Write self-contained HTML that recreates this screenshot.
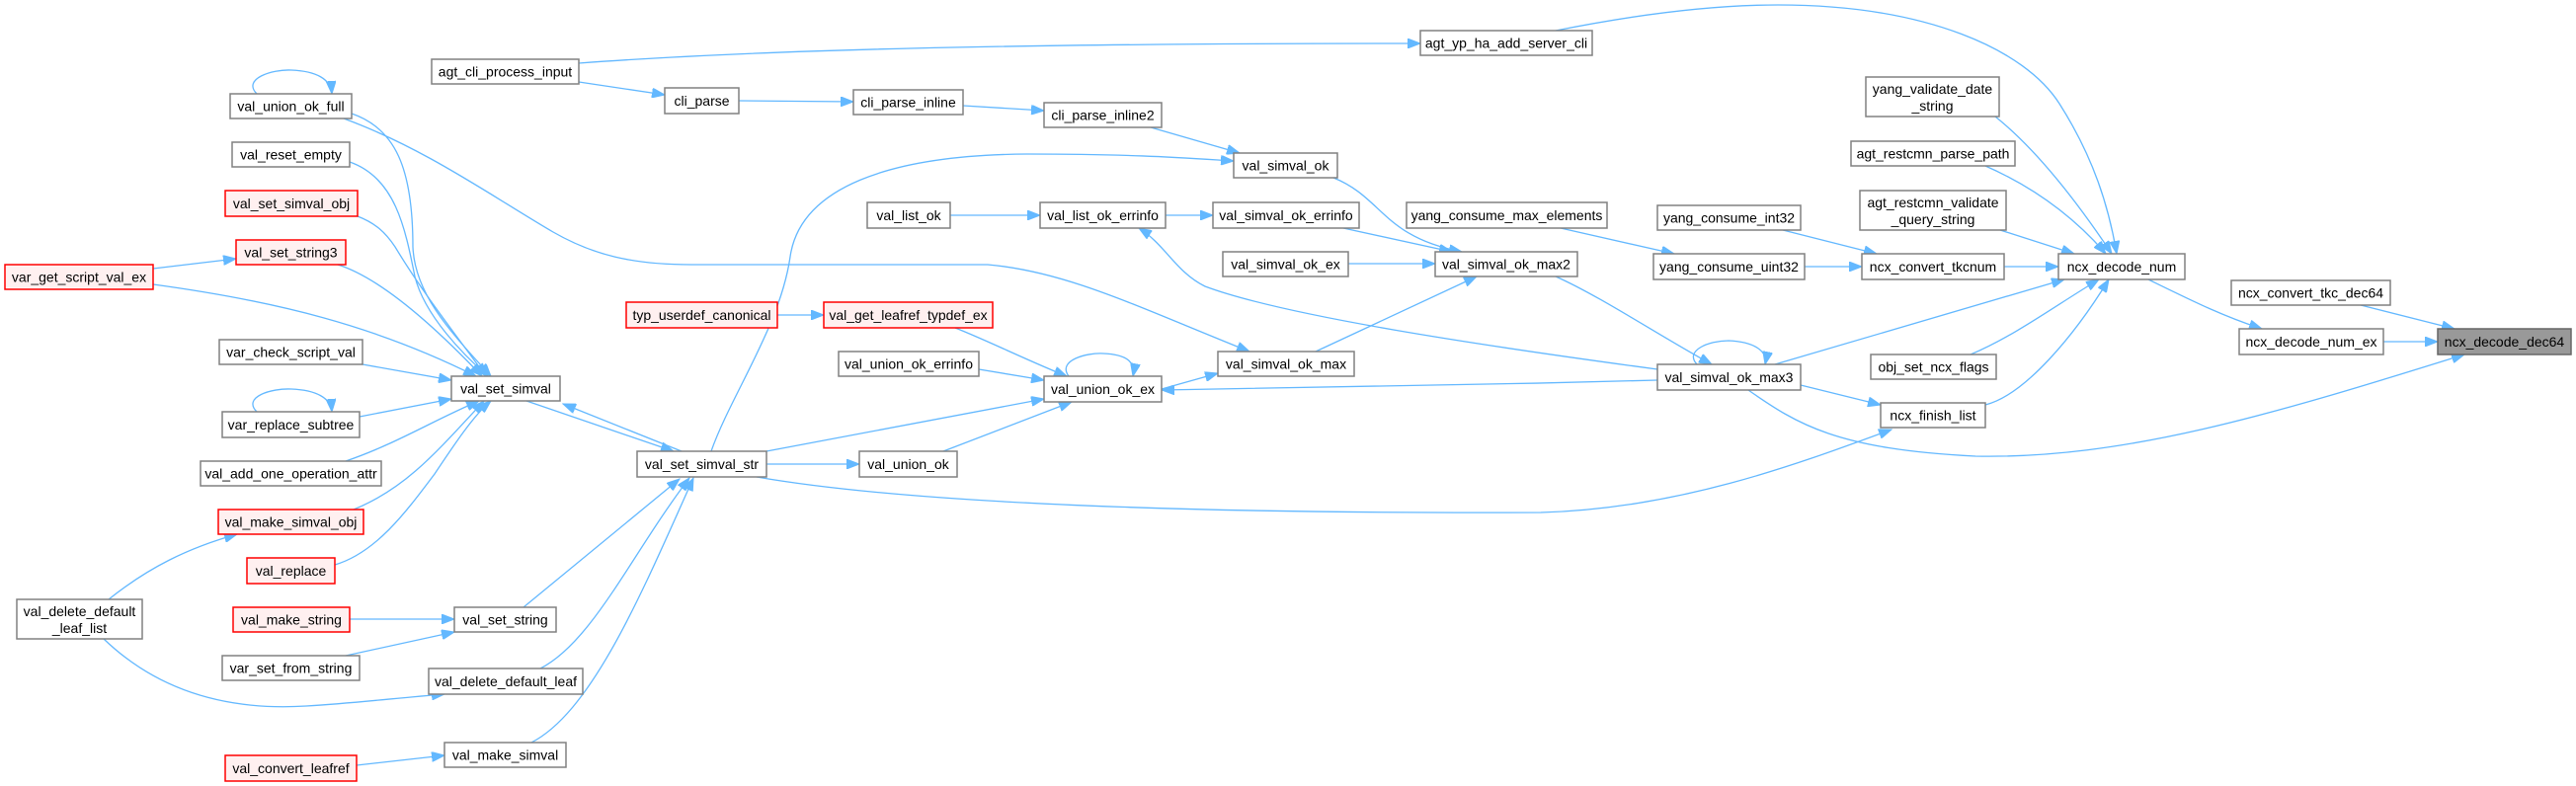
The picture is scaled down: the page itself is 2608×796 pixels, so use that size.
<!DOCTYPE html>
<html><head><meta charset="utf-8"><style>
html,body{margin:0;padding:0;background:#fff;}
svg{display:block;}
text{font-family:"Liberation Sans",Arial,sans-serif;font-size:14px;fill:#000;text-anchor:middle;}
.n{fill:#fff;stroke:#808080;stroke-width:1.5;}
.r{fill:#fff0f0;stroke:#ff0000;stroke-width:1.5;}
.g{fill:#999;stroke:#666;stroke-width:1.5;}
path.e{fill:none;stroke:#63b8ff;stroke-width:1.3;marker-end:url(#a);}
</style></head><body>
<svg width="2608" height="796" viewBox="0 0 2608 796" xmlns="http://www.w3.org/2000/svg">
<defs><marker id="a" markerUnits="userSpaceOnUse" markerWidth="14" markerHeight="10" refX="13" refY="5" orient="auto"><path d="M0,0 L13,5 L0,10 z" fill="#63b8ff" stroke="#63b8ff"/></marker></defs>

<!-- edges -->
<path class="e" d="M586,64 C800,48 1100,44 1438,44"/>
<path class="e" d="M586,83 L673,96"/>
<path class="e" d="M748,102 L864,103"/>
<path class="e" d="M975,107 L1057,112"/>
<path class="e" d="M1165,129 L1255,155"/>
<path class="e" d="M720,457 C740,400 790,330 800,260 C810,190 900,157 1040,156 C1150,156 1200,160 1249,163"/>
<path class="e" d="M260,95 C245,80 275,70 295,71 C320,72 335,80 336,95"/>
<path class="e" d="M348,120 C430,150 500,200 560,235 C600,258 640,268 700,268 L1000,268 C1080,275 1150,310 1265,356"/>
<path class="e" d="M356,115 C400,130 418,170 418,250 C420,300 460,340 497,381"/>
<path class="e" d="M354,164 C400,180 410,230 420,280 C430,320 470,360 494,381"/>
<path class="e" d="M362,219 C380,226 390,235 400,250 C430,300 470,350 492,381"/>
<path class="e" d="M342,268 C380,280 430,320 488,381"/>
<path class="e" d="M155,272 L239,262"/>
<path class="e" d="M155,288 C280,305 380,330 482,381"/>
<path class="e" d="M367,369 L457,385"/>
<path class="e" d="M260,417 C245,402 275,393 295,394 C320,395 335,403 336,417"/>
<path class="e" d="M364,422 L457,404"/>
<path class="e" d="M350,467 C400,450 440,425 485,406"/>
<path class="e" d="M358,516 C410,495 440,460 490,406"/>
<path class="e" d="M339,572 C380,560 410,520 440,480 C460,450 480,420 497,406"/>
<path class="e" d="M110,607 C150,575 190,555 240,541"/>
<path class="e" d="M105,647 C160,700 230,720 310,715 C360,712 400,707 450,703"/>
<path class="e" d="M354,627 L460,627"/>
<path class="e" d="M350,664 L460,640"/>
<path class="e" d="M533,406 L682,457"/>
<path class="e" d="M690,457 L570,409"/>
<path class="e" d="M530,615 L688,485"/>
<path class="e" d="M547,677 C600,650 640,560 698,484"/>
<path class="e" d="M538,752 C600,720 650,600 702,484"/>
<path class="e" d="M361,775 L450,765"/>
<path class="e" d="M776,470 L870,470"/>
<path class="e" d="M776,457 L1057,404"/>
<path class="e" d="M955,457 L1085,407"/>
<path class="e" d="M967,332 C1000,345 1040,365 1080,381"/>
<path class="e" d="M991,374 L1057,385"/>
<path class="e" d="M766,483 C950,515 1300,520 1560,519 C1700,515 1820,470 1915,435"/>
<path class="e" d="M787,319 L834,319"/>
<path class="e" d="M1082,381 C1070,365 1100,357 1117,358 C1140,359 1150,366 1147,381"/>
<path class="e" d="M1176,394 L1233,378"/>
<path class="e" d="M1678,385 C1500,390 1300,393 1176,395"/>
<path class="e" d="M1332,356 L1495,280"/>
<path class="e" d="M962,218 L1053,218"/>
<path class="e" d="M1180,218 L1228,218"/>
<path class="e" d="M1678,374 C1500,350 1300,320 1220,290 C1190,275 1180,248 1153,231"/>
<path class="e" d="M1350,180 C1400,200 1400,240 1480,255"/>
<path class="e" d="M1360,231 L1470,255"/>
<path class="e" d="M1365,267 L1453,267"/>
<path class="e" d="M1580,231 L1695,257"/>
<path class="e" d="M1805,233 L1900,257"/>
<path class="e" d="M1827,270 L1885,270"/>
<path class="e" d="M2029,270 L2084,270"/>
<path class="e" d="M1575,280 C1620,300 1680,340 1733,369"/>
<path class="e" d="M1718,369 C1705,355 1730,345 1750,345 C1775,346 1790,355 1787,369"/>
<path class="e" d="M1797,369 L2090,283"/>
<path class="e" d="M1823,390 L1904,410"/>
<path class="e" d="M1770,395 C1820,430 1860,455 2000,462 C2150,465 2300,420 2495,359"/>
<path class="e" d="M2010,410 C2050,400 2100,340 2135,283"/>
<path class="e" d="M1995,359 C2040,340 2080,310 2125,283"/>
<path class="e" d="M1575,31 C1680,10 1750,5 1800,5 C1950,5 2050,50 2085,105 C2120,160 2135,210 2143,257"/>
<path class="e" d="M2020,118 C2060,150 2100,200 2138,257"/>
<path class="e" d="M2010,168 C2060,190 2100,220 2132,257"/>
<path class="e" d="M2025,233 L2100,257"/>
<path class="e" d="M2175,283 C2220,305 2250,320 2290,333"/>
<path class="e" d="M2390,309 L2485,333"/>
<path class="e" d="M2413,346 L2468,346"/>

<!-- nodes -->
<rect class="n" x="437" y="60" width="149" height="25"/><text x="511.5" y="77.5">agt_cli_process_input</text>
<rect class="n" x="1438" y="31" width="174" height="25"/><text x="1525" y="48.5">agt_yp_ha_add_server_cli</text>
<rect class="n" x="673" y="89" width="75" height="26"/><text x="710.5" y="107">cli_parse</text>
<rect class="n" x="864" y="91" width="111" height="25"/><text x="919.5" y="108.5">cli_parse_inline</text>
<rect class="n" x="1057" y="104" width="119" height="25"/><text x="1116.5" y="121.5">cli_parse_inline2</text>
<rect class="n" x="233" y="95" width="123" height="25"/><text x="294.5" y="112.5">val_union_ok_full</text>
<rect class="n" x="235" y="144" width="119" height="25"/><text x="294.5" y="161.5">val_reset_empty</text>
<rect class="r" x="228" y="193" width="134" height="26"/><text x="295" y="211">val_set_simval_obj</text>
<rect class="r" x="239" y="243" width="111" height="25"/><text x="294.5" y="260.5">val_set_string3</text>
<rect class="r" x="5" y="268" width="150" height="25"/><text x="80" y="285.5">var_get_script_val_ex</text>
<rect class="n" x="222" y="344" width="145" height="25"/><text x="294.5" y="361.5">var_check_script_val</text>
<rect class="n" x="457" y="381" width="110" height="25"/><text x="512" y="398.5">val_set_simval</text>
<rect class="n" x="225" y="417" width="139" height="26"/><text x="294.5" y="435">var_replace_subtree</text>
<rect class="n" x="203" y="467" width="183" height="25"/><text x="294.5" y="484.5">val_add_one_operation_attr</text>
<rect class="r" x="221" y="516" width="147" height="25"/><text x="294.5" y="533.5">val_make_simval_obj</text>
<rect class="r" x="250" y="565" width="89" height="26"/><text x="294.5" y="583">val_replace</text>
<rect class="n" x="17" y="607" width="127" height="40"/><text x="80.5" y="624">val_delete_default</text><text x="80.5" y="641">_leaf_list</text>
<rect class="r" x="236" y="615" width="118" height="25"/><text x="295" y="632.5">val_make_string</text>
<rect class="n" x="460" y="615" width="103" height="25"/><text x="511.5" y="632.5">val_set_string</text>
<rect class="n" x="225" y="664" width="139" height="25"/><text x="294.5" y="681.5">var_set_from_string</text>
<rect class="n" x="434" y="677" width="156" height="26"/><text x="512" y="695">val_delete_default_leaf</text>
<rect class="n" x="450" y="752" width="123" height="25"/><text x="511.5" y="769.5">val_make_simval</text>
<rect class="r" x="228" y="765" width="133" height="26"/><text x="294.5" y="783">val_convert_leafref</text>
<rect class="n" x="645" y="457" width="131" height="26"/><text x="710.5" y="475">val_set_simval_str</text>
<rect class="n" x="870" y="457" width="99" height="26"/><text x="919.5" y="475">val_union_ok</text>
<rect class="n" x="878" y="205" width="84" height="26"/><text x="920" y="223">val_list_ok</text>
<rect class="r" x="634" y="306" width="153" height="26"/><text x="710.5" y="324">typ_userdef_canonical</text>
<rect class="r" x="834" y="306" width="171" height="26"/><text x="919.5" y="324">val_get_leafref_typdef_ex</text>
<rect class="n" x="849" y="356" width="142" height="25"/><text x="920" y="373.5">val_union_ok_errinfo</text>
<rect class="n" x="1249" y="155" width="105" height="25"/><text x="1301.5" y="172.5">val_simval_ok</text>
<rect class="n" x="1053" y="205" width="127" height="26"/><text x="1116.5" y="223">val_list_ok_errinfo</text>
<rect class="n" x="1228" y="205" width="148" height="26"/><text x="1302" y="223">val_simval_ok_errinfo</text>
<rect class="n" x="1424" y="205" width="203" height="26"/><text x="1525.5" y="223">yang_consume_max_elements</text>
<rect class="n" x="1238" y="255" width="127" height="25"/><text x="1301.5" y="272.5">val_simval_ok_ex</text>
<rect class="n" x="1453" y="255" width="144" height="25"/><text x="1525" y="272.5">val_simval_ok_max2</text>
<rect class="n" x="1233" y="356" width="138" height="25"/><text x="1302" y="373.5">val_simval_ok_max</text>
<rect class="n" x="1057" y="381" width="119" height="26"/><text x="1116.5" y="399">val_union_ok_ex</text>
<rect class="n" x="1889" y="78" width="135" height="40"/><text x="1956.5" y="95">yang_validate_date</text><text x="1956.5" y="112">_string</text>
<rect class="n" x="1874" y="143" width="166" height="25"/><text x="1957" y="160.5">agt_restcmn_parse_path</text>
<rect class="n" x="1883" y="193" width="148" height="40"/><text x="1957" y="210">agt_restcmn_validate</text><text x="1957" y="227">_query_string</text>
<rect class="n" x="1678" y="208" width="145" height="25"/><text x="1750.5" y="225.5">yang_consume_int32</text>
<rect class="n" x="1674" y="257" width="153" height="26"/><text x="1750.5" y="275">yang_consume_uint32</text>
<rect class="n" x="1885" y="257" width="144" height="26"/><text x="1957" y="275">ncx_convert_tkcnum</text>
<rect class="n" x="1678" y="369" width="145" height="26"/><text x="1750.5" y="387">val_simval_ok_max3</text>
<rect class="n" x="1894" y="359" width="127" height="25"/><text x="1957.5" y="376.5">obj_set_ncx_flags</text>
<rect class="n" x="1904" y="408" width="106" height="25"/><text x="1957" y="425.5">ncx_finish_list</text>
<rect class="n" x="2084" y="257" width="128" height="26"/><text x="2148" y="275">ncx_decode_num</text>
<rect class="n" x="2259" y="284" width="161" height="25"/><text x="2339.5" y="301.5">ncx_convert_tkc_dec64</text>
<rect class="n" x="2267" y="333" width="146" height="26"/><text x="2340" y="351">ncx_decode_num_ex</text>
<rect class="g" x="2468" y="333" width="135" height="26"/><text x="2535.5" y="351">ncx_decode_dec64</text>
</svg>
</body></html>
